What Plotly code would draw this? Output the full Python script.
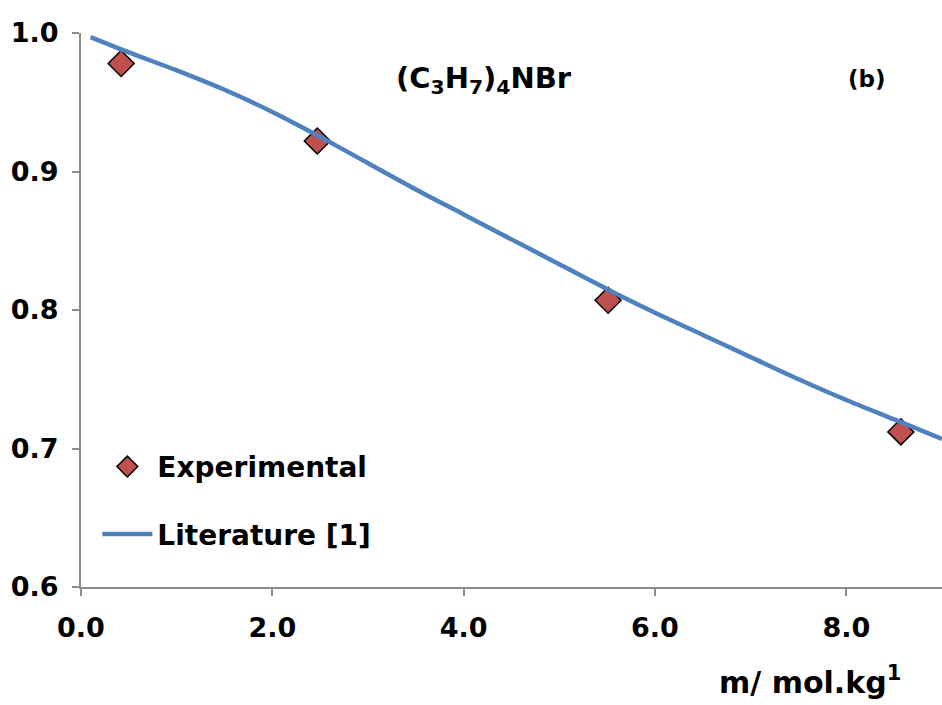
import plotly.graph_objects as go

# Experimental osmotic data
exp_m = [0.42, 2.47, 5.51, 8.57]
exp_phi = [0.978, 0.922, 0.807, 0.712]

# Literature curve [1]
lit_m = [0.1, 0.5, 1.0, 1.5, 2.0, 2.5, 3.0, 3.5, 4.0, 4.5, 5.0, 5.5, 6.0, 6.5, 7.0, 7.5, 8.0, 8.5, 9.0]
lit_phi = [0.997, 0.986, 0.973, 0.959, 0.943, 0.925, 0.906, 0.887, 0.869, 0.851,
           0.833, 0.815, 0.798, 0.782, 0.766, 0.750, 0.735, 0.721, 0.707]

x_ticks = [0, 2, 4, 6, 8]
x_tick_text = ["0.0", "2.0", "4.0", "6.0", "8.0"]
y_ticks = [0.6, 0.7, 0.8, 0.9, 1.0]
y_tick_text = ["0.6", "0.7", "0.8", "0.9", "1.0"]

FONT = "DejaVu Sans"
AXIS_GREY = "#8c8c8c"

fig = go.Figure()
fig.add_trace(go.Scatter(
    x=exp_m, y=exp_phi, mode="markers", name="Experimental",
    legendgroup="a",
    marker=dict(symbol="diamond", size=20, color="#C0504D",
                line=dict(color="black", width=1.5)),
))
fig.add_trace(go.Scatter(
    x=lit_m, y=lit_phi, mode="lines", name="Literature [1]",
    legendgroup="b",
    line=dict(color="#4F81BD", width=4.5, shape="spline", smoothing=0.8),
))

fig.update_layout(
    width=942, height=705,
    margin=dict(l=81, r=0, t=33, b=118),
    paper_bgcolor="white", plot_bgcolor="white",
    font=dict(family=FONT, color="black"),
    showlegend=True,
    legend=dict(x=0.019, y=0.262, xanchor="left", yanchor="top",
                font=dict(family=FONT, size=28, color="black", weight="bold"),
                itemwidth=50, tracegroupgap=28, bgcolor="rgba(0,0,0,0)"),
    xaxis=dict(range=[0, 9], tickvals=x_ticks, ticktext=x_tick_text,
               showgrid=False, zeroline=False, showline=True,
               linecolor=AXIS_GREY, linewidth=2,
               ticks="outside", ticklen=7, tickcolor=AXIS_GREY, tickwidth=2,
               ticklabelstandoff=9,
               tickfont=dict(family=FONT, size=27, weight="bold")),
    yaxis=dict(range=[0.6, 1.0], tickvals=y_ticks, ticktext=y_tick_text,
               showgrid=False, zeroline=False, showline=True,
               linecolor=AXIS_GREY, linewidth=2,
               ticks="outside", ticklen=7, tickcolor=AXIS_GREY, tickwidth=2,
               ticklabelstandoff=8,
               tickfont=dict(family=FONT, size=27, weight="bold")),
    annotations=[
        dict(text="(C<sub>3</sub>H<sub>7</sub>)<sub>4</sub>NBr",
             xref="paper", yref="paper", x=0.364, y=0.915,
             xanchor="left", yanchor="middle", showarrow=False,
             font=dict(family=FONT, size=29, weight="bold")),
        dict(text="(b)", xref="paper", yref="paper", x=0.889, y=0.917,
             xanchor="left", yanchor="middle", showarrow=False,
             font=dict(family=FONT, size=23, weight="bold")),
        dict(text="m/ mol.kg<sup>1</sup>", xref="paper", yref="paper",
             x=0.955, y=-0.168, xanchor="right", yanchor="middle",
             showarrow=False,
             font=dict(family=FONT, size=30, weight="bold")),
    ],
)

fig.write_html("out.html")
